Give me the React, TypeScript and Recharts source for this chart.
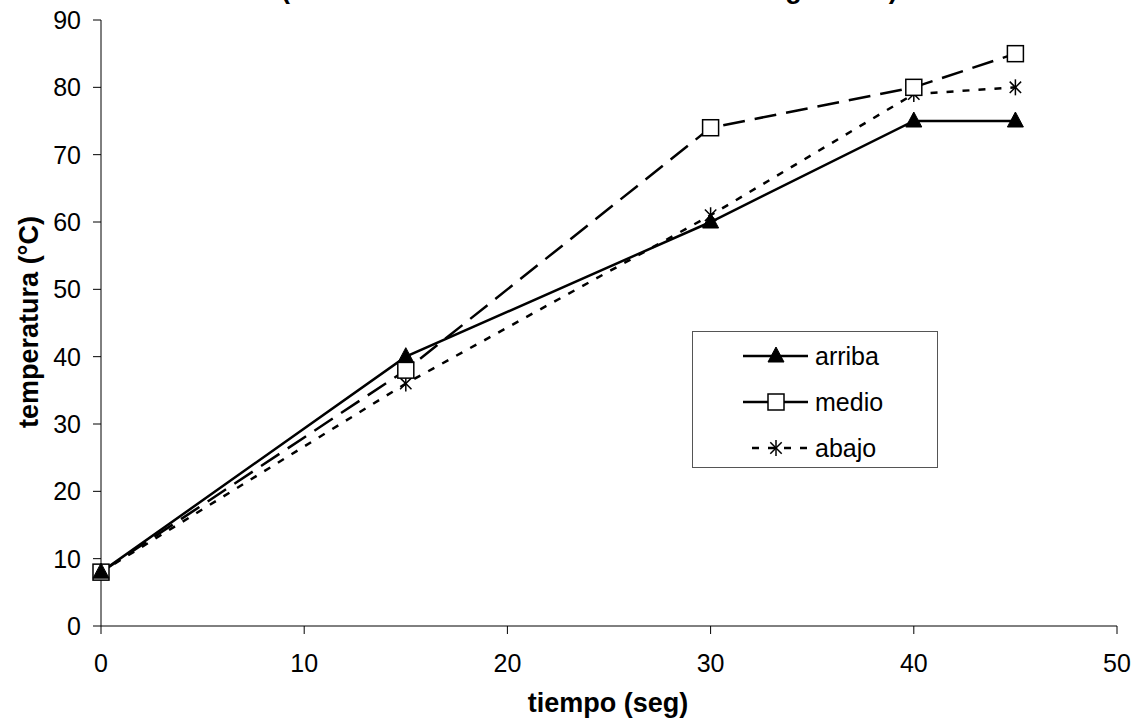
import React from 'react';
import { LineChart, Line, XAxis, YAxis } from 'recharts';

const tiempo = [0, 15, 30, 40, 45];
const arriba = [8, 40, 60, 75, 75];
const medio = [8, 38, 74, 80, 85];
const abajo = [8, 36, 61, 79, 80];
const xTicks = [0, 10, 20, 30, 40, 50];
const yTicks = [0, 10, 20, 30, 40, 50, 60, 70, 80, 90];
const seriesNames = ['arriba', 'medio', 'abajo'];
const titulo = '(calentamiento en una olla abierta sin agitación)';
const xLabel = 'tiempo (seg)';
const yLabel = 'temperatura (°C)';

const data = tiempo.map((t, i) => ({ t, arriba: arriba[i], medio: medio[i], abajo: abajo[i] }));

const FONT = 'Arial, "Liberation Sans", sans-serif';

const Triangle = (props: any) => {
  const { cx, cy } = props;
  if (cx == null || cy == null) return null;
  return <path d={`M${cx},${cy - 9} L${cx + 8},${cy + 6} L${cx - 8},${cy + 6} Z`} fill="#000" stroke="#000" strokeWidth={1} />;
};
const Square = (props: any) => {
  const { cx, cy } = props;
  if (cx == null || cy == null) return null;
  return <rect x={cx - 8} y={cy - 8} width={16} height={16} fill="#fff" stroke="#000" strokeWidth={1.5} />;
};
const Star = (props: any) => {
  const { cx, cy } = props;
  if (cx == null || cy == null) return null;
  const r = 8;
  const d = 5.7;
  return (
    <g stroke="#000" strokeWidth={1.5}>
      <line x1={cx} y1={cy - r} x2={cx} y2={cy + r} />
      <line x1={cx - d} y1={cy - d} x2={cx + d} y2={cy + d} />
      <line x1={cx - d} y1={cy + d} x2={cx + d} y2={cy - d} />
    </g>
  );
};

const LegendBox = () => {
  const rows = [
    { name: seriesNames[0], dash: undefined, M: Triangle },
    { name: seriesNames[1], dash: undefined, M: Square },
    { name: seriesNames[2], dash: '7 9', M: Star },
  ];
  return (
    <svg width={246} height={137} style={{ display: 'block' }}>
      <rect x={0.5} y={0.5} width={245} height={136} fill="#fff" stroke="#555" strokeWidth={1} />
      {rows.map((r, i) => {
        const y = 25 + i * 46;
        return (
          <g key={r.name}>
            <line x1={r.dash ? 60 : 51} y1={y} x2={116} y2={y} stroke="#000" strokeWidth={2.5} strokeDasharray={r.dash} />
            <r.M cx={84} cy={y} />
            <text x={123} y={y + 9} fontSize={25} fontFamily={FONT} fill="#000">{r.name}</text>
          </g>
        );
      })}
    </svg>
  );
};

export default function App() {
  return (
    <div style={{ position: 'absolute', left: 0, top: 0, width: 1139, height: 726, background: '#fff' }}>
      <LineChart width={1139} height={726} data={data} margin={{ top: 20, right: 22, left: 41, bottom: 50 }}>
        <text x={281} y={-2} textAnchor="start" fontSize={27} fontWeight="bold" fontFamily={FONT} fill="#000">
          {titulo}
        </text>
        <text x={608} y={712} textAnchor="middle" fontSize={27} fontWeight="bold" fontFamily={FONT} fill="#000">
          {xLabel}
        </text>
        <text x={38} y={322} transform="rotate(-90, 38, 322)" textAnchor="middle" fontSize={27} fontWeight="bold" fontFamily={FONT} fill="#000">
          {yLabel}
        </text>
        <XAxis
          dataKey="t"
          type="number"
          domain={[0, 50]}
          ticks={xTicks}
          height={50}
          tickSize={8}
          tickMargin={20}
          tick={{ fill: '#000', fontSize: 25, fontFamily: FONT }}
          stroke="#000"
        />
        <YAxis
          type="number"
          domain={[0, 90]}
          ticks={yTicks}
          width={60}
          tickSize={8}
          tickMargin={12}
          tick={{ fill: '#000', fontSize: 25, fontFamily: FONT }}
          stroke="#000"
        />
        <Line dataKey="abajo" name="abajo" stroke="#000" strokeWidth={2.5} strokeDasharray="7 9" dot={<Star />} isAnimationActive={false} />
        <Line dataKey="medio" name="medio" stroke="#000" strokeWidth={2.5} strokeDasharray="22 10" dot={<Square />} isAnimationActive={false} />
        <Line dataKey="arriba" name="arriba" stroke="#000" strokeWidth={2.5} dot={<Triangle />} isAnimationActive={false} />
      </LineChart>
      <div style={{ position: 'absolute', left: 692, top: 331 }}>
        <LegendBox />
      </div>
    </div>
  );
}
